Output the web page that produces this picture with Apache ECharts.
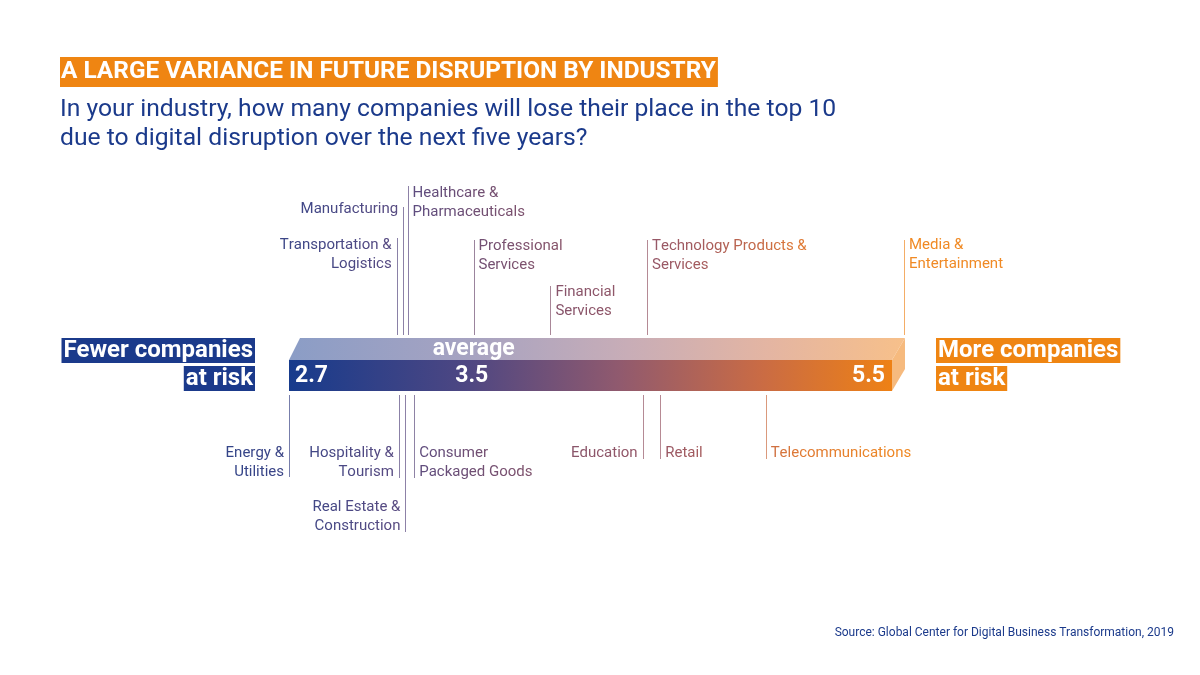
<!DOCTYPE html>
<html>
<head>
<meta charset="utf-8">
<script src="https://cdn.jsdelivr.net/npm/echarts@6/dist/echarts.min.js"></script>
<style>
  html, body { margin: 0; background: #fff; }
  #chart { width: 1200px; height: 675px; }
</style>
</head>
<body>
<div id="chart"></div>
<script>
// data
const industries = [
  'Energy & Utilities', 'Transportation & Logistics', 'Hospitality & Tourism',
  'Manufacturing', 'Real Estate & Construction', 'Healthcare & Pharmaceuticals',
  'Consumer Packaged Goods', 'Professional Services', 'Financial Services',
  'Education', 'Technology Products & Services', 'Retail',
  'Telecommunications', 'Media & Entertainment'
]
const scores = [2.7, 3.19, 3.2, 3.22, 3.23, 3.24, 3.27, 3.54, 3.89, 4.31, 4.33, 4.39, 4.87, 5.5]
const minScore = 2.7
const maxScore = 5.5
const avgScore = 3.5

// how each label sits around the bar
const labelLayout = {
  'Energy & Utilities': { text: 'Energy &\nUtilities', side: 'down', end: 477, align: 'right', textY: 453 },
  'Transportation & Logistics': { text: 'Transportation &\nLogistics', side: 'up', end: 238, align: 'right', textY: 245 },
  'Hospitality & Tourism': { text: 'Hospitality &\nTourism', side: 'down', end: 478, align: 'right', textY: 453 },
  'Manufacturing': { text: 'Manufacturing', side: 'up', end: 207, align: 'right', textY: 209 },
  'Real Estate & Construction': { text: 'Real Estate &\nConstruction', side: 'down', end: 532, align: 'right', textY: 507 },
  'Healthcare & Pharmaceuticals': { text: 'Healthcare &\nPharmaceuticals', side: 'up', end: 186, align: 'left', textY: 193 },
  'Consumer Packaged Goods': { text: 'Consumer\nPackaged Goods', side: 'down', end: 478, align: 'left', textY: 453 },
  'Professional Services': { text: 'Professional\nServices', side: 'up', end: 240, align: 'left', textY: 246 },
  'Financial Services': { text: 'Financial\nServices', side: 'up', end: 286, align: 'left', textY: 292 },
  'Education': { text: 'Education', side: 'down', end: 459, align: 'right', textY: 453 },
  'Technology Products & Services': { text: 'Technology Products &\nServices', side: 'up', end: 240, align: 'left', textY: 246 },
  'Retail': { text: 'Retail', side: 'down', end: 459, align: 'left', textY: 453 },
  'Telecommunications': { text: 'Telecommunications', side: 'down', end: 459, align: 'left', textY: 453 },
  'Media & Entertainment': { text: 'Media &\nEntertainment', side: 'up', end: 240, align: 'left', textY: 245 }
}

const BLUE = '#1b3a8b'
const ORANGE = '#ef8512'
// bar colour ramp, t = 0 at the left end of the bar, 1 at the right end
const barStops = [
  [0, '#173b8c'], [0.3, '#4f4782'], [0.55, '#915a6e'], [0.78, '#c96b45'], [1, '#ee8115']
]
// label colour ramp (same axis, runs a little past both ends)
const textStops = [
  [-0.15, '#2f4389'], [0.02, '#3f4787'], [0.18, '#5a4c82'], [0.31, '#725073'],
  [0.44, '#88556b'], [0.59, '#965868'], [0.67, '#a55c5e'], [0.75, '#c0674c'],
  [0.83, '#e07b36'], [1.0, '#f08a25']
]

function hexToRgb(h) {
  return [parseInt(h.slice(1, 3), 16), parseInt(h.slice(3, 5), 16), parseInt(h.slice(5, 7), 16)]
}
function mix(a, b, t) {
  const ca = hexToRgb(a), cb = hexToRgb(b)
  return '#' + ca.map((v, i) => Math.round(v + (cb[i] - v) * t).toString(16).padStart(2, '0')).join('')
}
function ramp(stops, t) {
  if (t <= stops[0][0]) return stops[0][1]
  for (let i = 1; i < stops.length; i++) {
    if (t <= stops[i][0]) {
      const s0 = stops[i - 1], s1 = stops[i]
      return mix(s0[1], s1[1], (t - s0[0]) / (s1[0] - s0[0]))
    }
  }
  return stops[stops.length - 1][1]
}
function lightStops(k) {
  return barStops.map(s => ({ offset: s[0], color: mix(s[1], '#ffffff', k) }))
}

const BAR_TOP = 338, FRONT_TOP = 360, FRONT_BOTTOM = 391, DEPTH = 12
const LABEL_FONT = '15px Roboto'
const measureCtx = document.createElement('canvas').getContext('2d')

// colour each character by where it lands along the bar
function gradientRich(text, anchorX, align, toT) {
  measureCtx.font = LABEL_FONT
  const rich = {}
  let k = 0
  const lines = text.split('\n').map(line => {
    const w = measureCtx.measureText(line).width
    let cx = align === 'left' ? anchorX : anchorX - w
    return line.split('').map(ch => {
      const cw = measureCtx.measureText(ch).width
      const key = 'c' + k++
      rich[key] = { fill: ramp(textStops, toT(cx + cw / 2)), font: LABEL_FONT, lineHeight: 19 }
      cx += cw
      return '{' + key + '|' + ch + '}'
    }).join('')
  })
  return { text: lines.join('\n'), rich: rich }
}

const chart = echarts.init(document.getElementById('chart'))

function renderBar(params, api) {
  const x0 = api.coord([minScore, 0])[0]
  const x1 = api.coord([maxScore, 0])[0]
  const xa = api.coord([avgScore, 0])[0] + 7
  const numFont = 'bold 23px Roboto'
  const midY = (FRONT_TOP + FRONT_BOTTOM) / 2 + 1
  return {
    type: 'group',
    children: [
      {
        type: 'polygon',
        shape: { points: [[x0, FRONT_TOP], [x0 + DEPTH - 1, BAR_TOP], [x1 + 1, BAR_TOP], [x1 - DEPTH, FRONT_TOP]] },
        style: { fill: new echarts.graphic.LinearGradient(0, 0, 1, 0, lightStops(0.5)) }
      },
      {
        type: 'polygon',
        shape: { points: [[x1 - DEPTH, FRONT_TOP], [x1 + 1, BAR_TOP], [x1 + 1, FRONT_TOP + 9], [x1 - DEPTH, FRONT_BOTTOM]] },
        style: { fill: mix('#ee8115', '#ffffff', 0.45) }
      },
      {
        type: 'rect',
        shape: { x: x0, y: FRONT_TOP, width: x1 - DEPTH - x0, height: FRONT_BOTTOM - FRONT_TOP },
        style: { fill: new echarts.graphic.LinearGradient(0, 0, 1, 0, lightStops(0)) }
      },
      {
        type: 'text',
        style: { text: '2.7', x: x0 + 6, y: midY, align: 'left', verticalAlign: 'middle', font: numFont, fill: '#fff' }
      },
      {
        type: 'text',
        style: { text: '3.5', x: xa, y: midY, align: 'center', verticalAlign: 'middle', font: numFont, fill: '#fff' }
      },
      {
        type: 'text',
        style: { text: 'average', x: xa + 2, y: (BAR_TOP + FRONT_TOP) / 2, align: 'center', verticalAlign: 'middle', font: numFont, fill: '#fff' }
      },
      {
        type: 'text',
        style: { text: '5.5', x: x1 - DEPTH - 7, y: midY, align: 'right', verticalAlign: 'middle', font: numFont, fill: '#fff' }
      }
    ]
  }
}

function renderIndustry(params, api) {
  const name = industries[api.value(1)]
  const lay = labelLayout[name]
  const x = api.coord([api.value(0), 0])[0]
  const x0 = api.coord([minScore, 0])[0]
  const x1 = api.coord([maxScore, 0])[0]
  const toT = px => (px - x0) / (x1 - x0)
  const y1 = lay.side === 'up' ? lay.end : FRONT_BOTTOM + 4
  const y2 = lay.side === 'up' ? BAR_TOP - 3 : lay.end
  const lx = Math.round(x) + 0.5
  const tx = lay.align === 'left' ? x + 5 : x - 5
  const rich = gradientRich(lay.text, tx, lay.align, toT)
  return {
    type: 'group',
    children: [
      {
        type: 'line',
        shape: { x1: lx, y1: y1, x2: lx, y2: y2 },
        style: { stroke: ramp(textStops, toT(x)), lineWidth: 1, opacity: 0.7 }
      },
      {
        type: 'text',
        style: {
          text: rich.text,
          rich: rich.rich,
          x: tx,
          y: lay.textY - 9.5,
          align: lay.align,
          verticalAlign: 'top',
          font: LABEL_FONT,
          lineHeight: 19
        }
      }
    ]
  }
}

const boxText = (text, x, y, align, bg) => ({
  type: 'text',
  x: x,
  y: y,
  style: {
    text: text,
    align: align,
    verticalAlign: 'middle',
    font: 'bold 24px Roboto',
    lineHeight: 23,
    fill: '#fff',
    backgroundColor: bg,
    padding: [1, 2, 1, 2]
  }
})

const option = {
  animation: false,
  grid: { left: 289, right: 296, top: 100, bottom: 100 },
  xAxis: { type: 'value', min: minScore, max: maxScore, show: false },
  yAxis: { type: 'value', min: 0, max: 1, show: false },
  graphic: [
    {
      type: 'text', x: 60, y: 72,
      style: {
        text: 'A LARGE VARIANCE IN FUTURE DISRUPTION BY INDUSTRY',
        verticalAlign: 'middle', font: 'bold 24.4px Roboto', lineHeight: 26, fill: '#fff',
        backgroundColor: ORANGE, padding: [2, 2, 2, 1]
      }
    },
    {
      type: 'text', x: 60, y: 95.5,
      style: {
        text: 'In your industry, how many companies will lose their place in the top 10\ndue to digital disruption over the next five years?',
        font: '24.7px Roboto', lineHeight: 29, fill: BLUE
      }
    },
    boxText('Fewer companies', 255, 350.5, 'right', BLUE),
    boxText('at risk', 255, 378.5, 'right', BLUE),
    boxText('More companies', 936, 350.5, 'left', ORANGE),
    boxText('at risk', 936, 378.5, 'left', ORANGE),
    {
      type: 'text', x: 1174, y: 633,
      style: {
        text: 'Source: Global Center for Digital Business Transformation, 2019',
        align: 'right', verticalAlign: 'middle', font: '12px Roboto', fill: BLUE
      }
    }
  ],
  series: [
    {
      type: 'custom',
      renderItem: renderBar,
      data: [[minScore, maxScore]],
      silent: true
    },
    {
      type: 'custom',
      renderItem: renderIndustry,
      data: scores.map((s, i) => [s, i]),
      silent: true
    }
  ]
}

chart.setOption(option)
</script>
</body>
</html>
